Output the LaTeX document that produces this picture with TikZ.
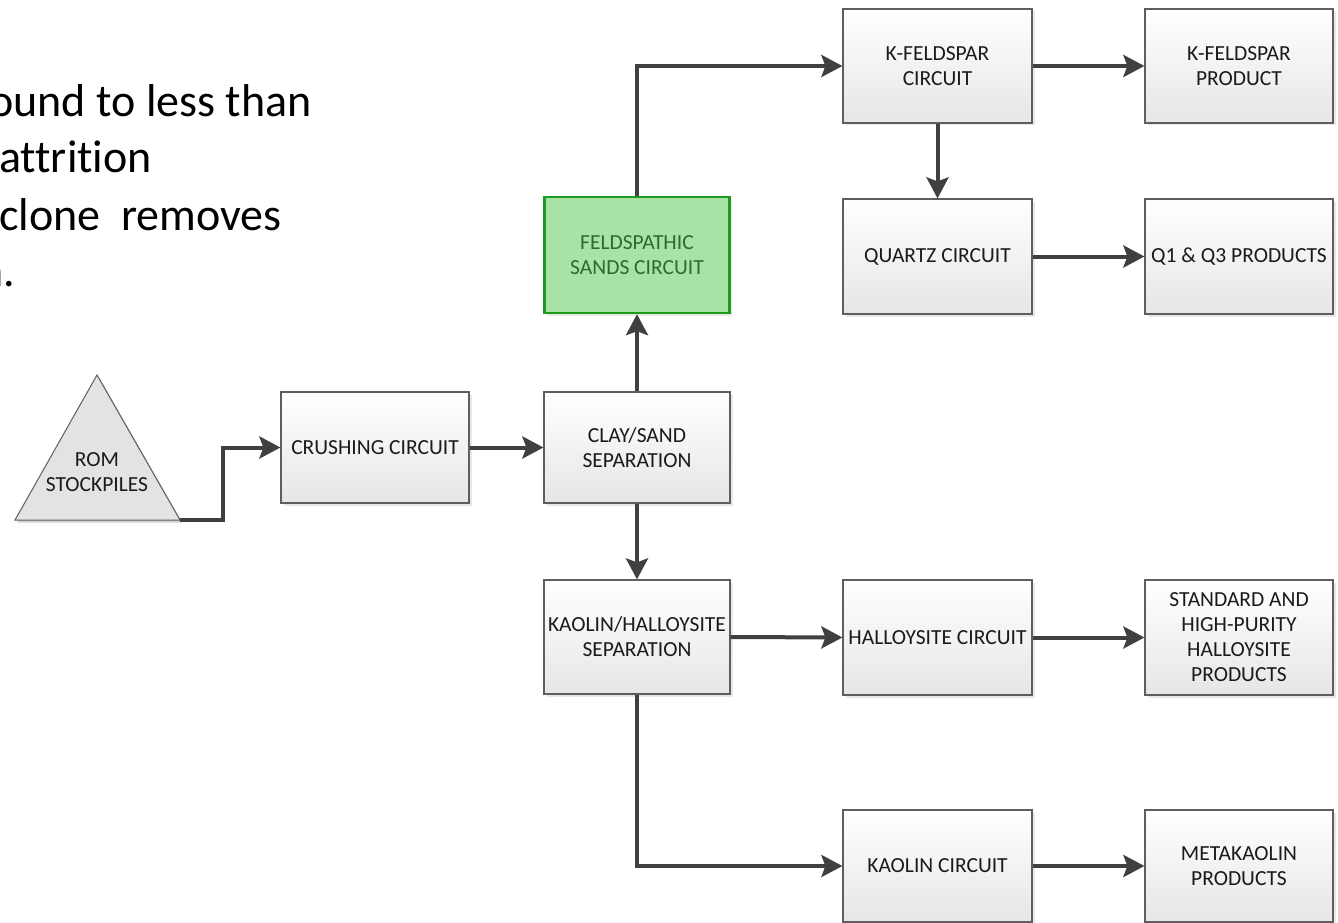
\documentclass[tikz,border=0pt]{standalone}
\usepackage{fontspec}
\setmainfont{Carlito}[Ligatures={NoCommon,NoRequired,NoContextual}]
\usetikzlibrary{arrows.meta,shadows,calc}
\definecolor{linec}{HTML}{404040}
\definecolor{boxline}{HTML}{5E5E5E}
\definecolor{boxbot}{HTML}{E6E6E6}
\definecolor{txt}{HTML}{1A1A1A}
\definecolor{trifill}{HTML}{E3E3E3}
\definecolor{gfill}{HTML}{A8E2A5}
\definecolor{gline}{HTML}{1E9A1E}
\definecolor{gtext}{HTML}{2E6A2E}
\begin{document}
\begin{tikzpicture}[x=1pt,y=-1pt,
  box/.style={draw=boxline, line width=1.2pt, top color=white, bottom color=boxbot,
    minimum width=188pt, minimum height=114pt, inner sep=0pt, align=center,
    font=\fontsize{21.5}{25}\selectfont, text=txt,
    drop shadow={shadow xshift=2.5pt, shadow yshift=-2.5pt, opacity=0.18}},
  greenbox/.style={box, draw=gline, line width=2.4pt, top color=gfill, bottom color=gfill, text=gtext},
  arr/.style={draw=linec, line width=4pt, -{Stealth[length=21pt,width=22pt,inset=4pt]}},
  big/.style={font=\fontsize{46}{55}\selectfont, text=black, inner sep=0pt}
]
\clip (0,0) rectangle (1338,923);
\fill[white] (0,0) rectangle (1338,923);

% text fragment top left
\node[big, anchor=base east] (t1) at (312,117) {ound to less than};
\node[big, anchor=base west] (t2) at (-1,172) {attrition};
\node[big, anchor=base west] (t3) at (-1,230) {clone\ \ removes};
\node[big, anchor=base east] (t4) at (15,286) {n.};

% ROM stockpiles triangle
\fill[black, opacity=0.18] (17.5,522.5) -- (99.5,377.5) -- (182.5,522.5) -- cycle;
\filldraw[fill=trifill, draw=boxline, line width=1pt] (15,520) -- (97,375) -- (180,520) -- cycle;
\coordinate (romout) at (180,520);
\coordinate (bend) at (223,520);
\node[align=center, font=\fontsize{21.5}{25}\selectfont, text=txt] (rom) at (97,472) {ROM\\STOCKPILES};

% boxes
\node[box, minimum width=188pt, minimum height=111pt] (cc) at (375,447.5) {CRUSHING CIRCUIT};
\node[box, minimum width=186pt, minimum height=111pt] (cs) at (637,447.5) {CLAY/SAND\\SEPARATION};
\node[greenbox, minimum width=185pt, minimum height=116pt] (fsc) at (637,255) {FELDSPATHIC\\SANDS CIRCUIT};
\node[box, minimum width=186pt, minimum height=114pt] (kh) at (637,637) {KAOLIN/HALLOYSITE\\SEPARATION};

\node[box, minimum width=189pt] (kfc) at (937.5,66) {K-FELDSPAR\\CIRCUIT};
\node[box, minimum width=188pt] (kfp) at (1239,66) {K-FELDSPAR\\PRODUCT};
\node[box, minimum width=189pt, minimum height=115pt] (qc) at (937.5,256.5) {QUARTZ CIRCUIT};
\node[box, minimum width=188pt, minimum height=115pt] (qp) at (1239,256.5) {Q1 \& Q3 PRODUCTS};
\node[box, minimum width=189pt, minimum height=115pt] (hc) at (937.5,637.5) {HALLOYSITE CIRCUIT};
\node[box, minimum width=188pt, minimum height=115pt] (sp) at (1239,637.5) {STANDARD AND\\HIGH-PURITY\\HALLOYSITE\\PRODUCTS};
\node[box, minimum width=189pt, minimum height=112pt] (kc) at (937.5,866) {KAOLIN CIRCUIT};
\node[box, minimum width=188pt, minimum height=112pt] (mp) at (1239,866) {METAKAOLIN\\PRODUCTS};

% connectors
\draw[arr] (romout) -- (bend) |- (cc.west);
\draw[arr] (cc.east) -- (cs.west);
\draw[arr] (cs.north) -- (fsc.south);
\draw[arr] (fsc.north) |- (kfc.west);
\draw[arr] (kfc.east) -- (kfp.west);
\draw[arr] (kfc.south) -- (qc.north);
\draw[arr] (qc.east) -- (qp.west);
\draw[arr] (cs.south) -- (kh.north);
\draw[arr] (kh.east) -- (hc.west);
\draw[arr] (hc.east) -- (sp.west);
\draw[arr] (kh.south) |- (kc.west);
\draw[arr] (kc.east) -- (mp.west);
\end{tikzpicture}
\end{document}
